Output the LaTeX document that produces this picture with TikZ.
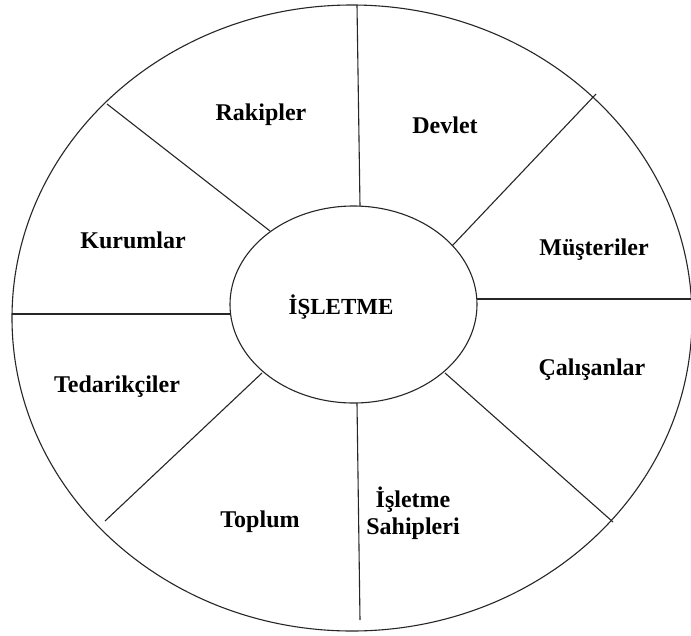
\documentclass[tikz,border=0pt]{standalone}
\usepackage{fontspec}
\setmainfont{Liberation Serif}
\usetikzlibrary{shapes.geometric}
\begin{document}
\begin{tikzpicture}[x=1pt,y=-1pt,
  ln/.style={line width=1.1pt,draw=black!85},
  lbl/.style={font=\fontsize{24}{27}\selectfont\bfseries,inner sep=0pt,align=center},
  ell/.style={ellipse,ln,inner sep=0pt}]
\useasboundingbox[fill=white] (0,0) rectangle (691,635);
% outer and inner ellipses
\node[ell,minimum width=680pt,minimum height=626pt] (outer) at (352,318) {};
\node[ell,minimum width=247pt,minimum height=197pt] (inner) at (353.5,304.5) {};
% separator end points
\coordinate (t1) at (357,5);   \coordinate (t2) at (360,206);
\coordinate (a1) at (107,104); \coordinate (a2) at (270,231);
\coordinate (b1) at (596,94);  \coordinate (b2) at (452,246);
\coordinate (l1) at (12,314);  \coordinate (l2) at (230,314);
\coordinate (r1) at (691,299); \coordinate (r2) at (477,299);
\coordinate (c1) at (105,521); \coordinate (c2) at (262,373);
\coordinate (d1) at (613,522); \coordinate (d2) at (445,373);
\coordinate (s1) at (357,403); \coordinate (s2) at (360,620);
\draw[ln] (t1) -- (t2);
\draw[ln] (a1) -- (a2);
\draw[ln] (b1) -- (b2);
\draw[ln] (l1) -- (l2);
\draw[ln] (r1) -- (r2);
\draw[ln] (c1) -- (c2);
\draw[ln] (d1) -- (d2);
\draw[ln] (s1) -- (s2);
% labels
\node[lbl,font=\fontsize{23}{26}\selectfont\bfseries] (isl) at (341,307) {İŞLETME};
\node[lbl] (rak) at (261,115) {Rakipler};
\node[lbl] (dev) at (445,125) {Devlet};
\node[lbl] (kur) at (133,240) {Kurumlar};
\node[lbl] (mus) at (594,250) {Müşteriler};
\node[lbl] (ted) at (117,387) {Tedarikçiler};
\node[lbl] (cal) at (592,370) {Çalışanlar};
\node[lbl] (top) at (260,522) {Toplum};
\node[lbl] (sah) at (413,513) {İşletme\\Sahipleri};
\end{tikzpicture}
\end{document}
